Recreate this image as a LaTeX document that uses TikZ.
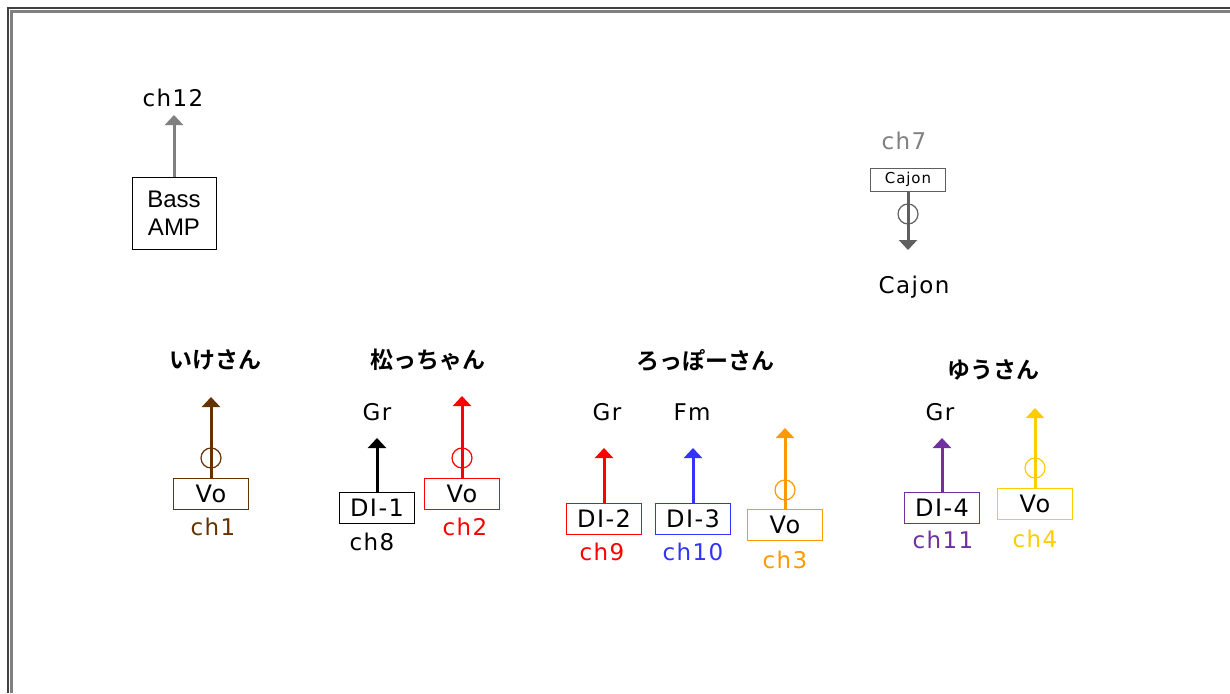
\documentclass[tikz,border=0pt]{standalone}
\usepackage{fontspec}
\setmainfont{DejaVu Sans}[LetterSpace=6]
\newfontfamily\jpfont{Noto Sans CJK JP}[BoldFont={Noto Sans CJK JP Bold}]
\newfontfamily\ampfont{Liberation Sans}
\usetikzlibrary{arrows.meta}
\definecolor{cbrown}{HTML}{663300}
\definecolor{cred}{HTML}{FF0000}
\definecolor{cblue}{HTML}{3333FF}
\definecolor{corange}{HTML}{FF9900}
\definecolor{cpurple}{HTML}{7030A0}
\definecolor{cyellow}{HTML}{FFCC00}
\definecolor{cgray}{HTML}{808080}
\definecolor{cdark}{HTML}{5F5F5F}
\tikzset{
  box/.style={draw, line width=1.4pt, minimum width=75pt, minimum height=31pt, inner sep=0pt, text=black, font=\fontsize{24}{26}\selectfont},
  lab/.style={font=\fontsize{23}{25}\selectfont},
  who/.style={font=\jpfont\bfseries\fontsize{23}{25}\selectfont},
  sig/.style={line width=3pt, -{Triangle[width=18pt,length=10pt]}},
  mic/.style={line width=1.2pt}
}
\begin{document}
\begin{tikzpicture}[x=1pt,y=-1pt]
\useasboundingbox (0,0) rectangle (1230,693);
\draw[line width=2pt, black!75] (8,693) -- (8,8) -- (1230,8);
\draw[line width=3pt, cgray] (11.5,693) -- (11.5,11.5) -- (1230,11.5);

\node[box, minimum width=84pt, minimum height=72pt, line width=1pt, align=center, font=\ampfont\fontsize{24}{28}\selectfont] (amp) at (174,213) {Bass\\AMP};
\node[lab] (ch12) at (173,98) {ch12};
\coordinate (t12) at (174,115);
\draw[sig, cgray] (amp.north) -- (t12);

\node[box, draw=cdark, line width=1pt, minimum width=75pt, minimum height=23pt, font=\fontsize{15}{17}\selectfont] (caj) at (908,179.5) {Cajon};
\node[lab, text=cgray] (ch7) at (904,141) {ch7};
\coordinate (t7) at (908,250);
\draw[sig, cdark] (caj.south) -- (t7);
\draw[mic, cdark] (908,214) circle (10pt);
\node[lab] (cajon) at (914,287) {Cajon};

\node[who] (ike) at (215,360) {いけさん};
\node[box, draw=cbrown] (vo1) at (211,494) {Vo};
\node[lab, text=cbrown] (ch1) at (213,527) {ch1};
\coordinate (t1) at (211,397);
\draw[sig, cbrown] (vo1.north) -- (t1);
\draw[mic, cbrown] (211,458) circle (10pt);

\node[who] (matsu) at (428,360) {松っちゃん};
\node[box] (di1) at (377,508) {DI-1};
\node[lab] (ch8) at (372,542) {ch8};
\node[lab] (gr1) at (377,412) {Gr};
\coordinate (t8) at (377,438);
\draw[sig, black] (di1.north) -- (t8);
\node[box, draw=cred] (vo2) at (462,494) {Vo};
\node[lab, text=cred] (ch2) at (465,527) {ch2};
\coordinate (t2) at (462,396);
\draw[sig, cred] (vo2.north) -- (t2);
\draw[mic, cred] (462,458) circle (10pt);

\node[who] (roppo) at (705,360) {ろっぽーさん};
\node[box, draw=cred] (di2) at (604,519) {DI-2};
\node[lab, text=cred] (ch9) at (602,552) {ch9};
\node[lab] (gr2) at (607,412) {Gr};
\coordinate (t9) at (604,448);
\draw[sig, cred] (di2.north) -- (t9);
\node[box, draw=cblue] (di3) at (693,519) {DI-3};
\node[lab, text=cblue] (ch10) at (693,552) {ch10};
\node[lab] (fm) at (692,412) {Fm};
\coordinate (t10) at (693,448);
\draw[sig, cblue] (di3.north) -- (t10);
\node[box, draw=corange] (vo3) at (785,525) {Vo};
\node[lab, text=corange] (ch3) at (785,560) {ch3};
\coordinate (t3) at (785,428);
\draw[sig, corange] (vo3.north) -- (t3);
\draw[mic, corange] (785,490) circle (10pt);

\node[who] (yu) at (993,370) {ゆうさん};
\node[box, draw=cpurple] (di4) at (942,508) {DI-4};
\node[lab, text=cpurple] (ch11) at (943,540) {ch11};
\node[lab] (gr3) at (940,412) {Gr};
\coordinate (t11) at (942,438);
\draw[sig, cpurple] (di4.north) -- (t11);
\node[box, draw=cyellow] (vo4) at (1035,504) {Vo};
\node[lab, text=cyellow] (ch4) at (1035,539) {ch4};
\coordinate (t4) at (1035,408);
\draw[sig, cyellow] (vo4.north) -- (t4);
\draw[mic, cyellow] (1035,468) circle (10pt);
\end{tikzpicture}
\end{document}
